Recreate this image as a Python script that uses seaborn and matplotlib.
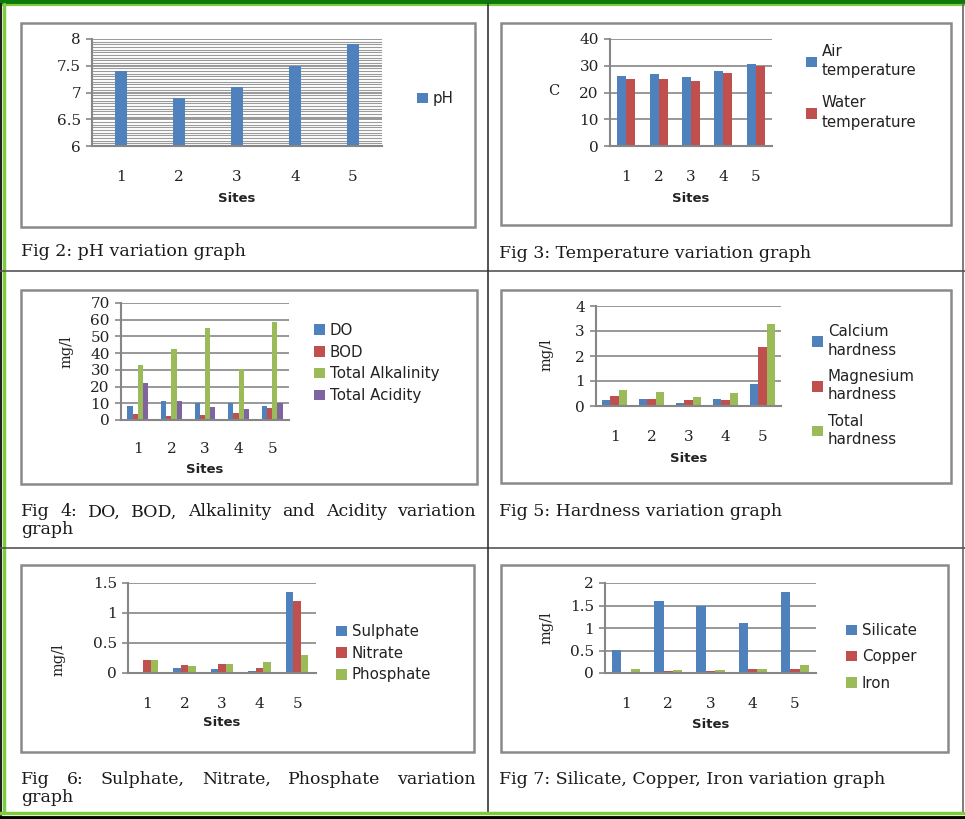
import numpy as np
import pandas as pd
import seaborn as sns
import matplotlib.pyplot as plt
from matplotlib.lines import Line2D
from matplotlib.patches import Rectangle

# ---- data ----
sites = ['1', '2', '3', '4', '5']

ph = [7.4, 6.9, 7.1, 7.5, 7.9]

air_temp = [26.2, 26.9, 25.7, 28.2, 30.5]
water_temp = [24.9, 24.9, 24.2, 27.4, 29.8]

do_vals = [8.4, 11.4, 10.0, 10.0, 8.4]
bod_vals = [3.6, 2.4, 3.0, 4.4, 7.4]
alkalinity = [32.9, 42.5, 55.3, 30.3, 58.5]
acidity = [22.0, 11.4, 7.6, 6.4, 10.4]

calcium = [0.24, 0.28, 0.11, 0.28, 0.88]
magnesium = [0.40, 0.28, 0.24, 0.24, 2.36]
total_hard = [0.63, 0.57, 0.36, 0.53, 3.27]

sulphate = [0.02, 0.09, 0.07, 0.03, 1.35]
nitrate = [0.21, 0.13, 0.155, 0.09, 1.205]
phosphate = [0.21, 0.12, 0.155, 0.19, 0.30]

silicate = [0.52, 1.60, 1.48, 1.11, 1.80]
copper = [0.0, 0.04, 0.04, 0.10, 0.10]
iron = [0.10, 0.07, 0.07, 0.10, 0.17]

BLUE, RED, GREEN, PURPLE = '#4F81BD', '#C0504D', '#9BBB59', '#8064A2'
GRID = '#868686'

W, H = 965, 819
sns.set_theme(style='white')
plt.rcParams['font.family'] = ['DejaVu Serif']

fig = plt.figure(figsize=(W / 100, H / 100), dpi=100)
fig.patch.set_facecolor('white')


def fx(x):
    return x / W


def fy(y):
    return 1 - y / H


def hline(x0, x1, y, color, lw):
    fig.add_artist(Line2D([fx(x0), fx(x1)], [fy(y), fy(y)], color=color, lw=lw,
                          transform=fig.transFigure))


def vline(x, y0, y1, color, lw):
    fig.add_artist(Line2D([fx(x), fx(x)], [fy(y0), fy(y1)], color=color, lw=lw,
                          transform=fig.transFigure))


def frame(x0, y0, x1, y1):
    fig.add_artist(Rectangle((fx(x0), fy(y1)), fx(x1) - fx(x0), fy(y0) - fy(y1),
                             fill=False, ec='#8a8a8a', lw=1.8, transform=fig.transFigure))


def make_df(series):
    rows = []
    for name, vals in series.items():
        for s, v in zip(sites, vals):
            rows.append({'Site': s, 'value': v, 'series': name})
    return pd.DataFrame(rows)


def bar_chart(box, series, colors, width, ylim, yticks, ytl, tick_y, sites_y,
              leg_xy, leg_gap=0.5, line_sp=1.2, minor=None, ylabel=None):
    x0, y0, x1, y1 = box
    ax = fig.add_axes([fx(x0), fy(y1), fx(x1) - fx(x0), fy(y0) - fy(y1)])
    df = make_df(series)
    sns.barplot(data=df, x='Site', y='value', hue='series', palette=colors,
                width=width, ax=ax, saturation=1, errorbar=None, edgecolor='none')
    ax.set_ylim(*ylim)
    ax.set_yticks(yticks)
    ax.set_yticklabels(ytl, fontsize=11, family='DejaVu Serif', color='#222222')
    ax.set_xticklabels(sites, fontsize=11, family='DejaVu Serif', color='#222222')
    ax.set_xlim(-0.5, 4.5)
    if minor is not None:
        ax.set_yticks(minor, minor=True)
        ax.yaxis.grid(True, which='minor', color='#9a9a9a', lw=0.8)
    ax.yaxis.grid(True, which='major', color=GRID, lw=1.2)
    ax.set_axisbelow(True)
    for side in ['top', 'right']:
        ax.spines[side].set_visible(False)
    for side in ['left', 'bottom']:
        ax.spines[side].set_color(GRID)
        ax.spines[side].set_linewidth(1.5)
    ax.tick_params(axis='y', which='major', left=True, length=4, color=GRID, width=1.2, pad=4)
    ax.tick_params(axis='y', which='minor', left=False)
    # tick label vertical offset from the axis bottom in pixels -> points
    ax.tick_params(axis='x', bottom=False, pad=(tick_y - y1 - 8) * 0.72)
    ax.set_xlabel('Sites', fontsize=9.5, fontweight='bold', family='DejaVu Sans',
                  color='#222222')
    ax.xaxis.set_label_coords(0.5, -(sites_y - y1) / (y1 - y0))
    ax.xaxis.label.set_va('center')
    ax.set_ylabel('')
    if ylabel is not None:
        txt, lx, ly, rot = ylabel
        fig.text(fx(lx), fy(ly), txt, rotation=rot, ha='center', va='center',
                 fontsize=10.5, family='DejaVu Serif', color='#222222')
    handles, labels = ax.get_legend_handles_labels()
    leg = ax.legend(handles, labels, loc='upper left',
                    bbox_to_anchor=(fx(leg_xy[0]), fy(leg_xy[1])),
                    bbox_transform=fig.transFigure, frameon=False, handlelength=0.7,
                    handleheight=0.7, handletextpad=0.35, labelspacing=leg_gap,
                    prop={'family': 'DejaVu Sans', 'size': 10.8}, borderpad=0,
                    borderaxespad=0)
    for t in leg.get_texts():
        t.set_linespacing(line_sp)
        t.set_color('#222222')
    return ax


# ---- page borders ----
hline(0, W, 1.5, '#0b7a0b', 3.2)
hline(0, W, 4.5, '#7ccc3c', 1.5)
vline(3.5, 4, 813, '#7ccc3c', 2.5)
vline(1, 4, 819, '#222222', 1.5)
vline(962.5, 4, 813, '#666666', 1.2)
hline(0, W, 271, '#555555', 1.2)
hline(0, W, 548, '#555555', 1.2)
vline(488, 4, 813, '#333333', 1.2)
hline(0, W, 813, '#7ccc3c', 2.5)
hline(0, W, 817.5, '#000000', 3.5)

# ---- chart frames ----
frame(21, 23, 475, 227)
frame(501, 23, 951, 225)
frame(21, 290, 477, 484)
frame(501, 290, 951, 483)
frame(21, 565, 474, 752)
frame(501, 565, 948, 752)

# Fig 2: pH
bar_chart((92, 39, 382, 146), {'pH': ph}, [BLUE], 0.21, (6, 8),
          [6, 6.5, 7, 7.5, 8], ['6', '6.5', '7', '7.5', '8'], 170, 199,
          (417, 91), minor=np.arange(6, 8.001, 0.05))

# Fig 3: temperature
bar_chart((610, 39, 772, 146),
          {'Air\ntemperature': air_temp, 'Water\ntemperature': water_temp},
          [BLUE, RED], 0.56, (0, 40), [0, 10, 20, 30, 40],
          ['0', '10', '20', '30', '40'], 170, 199, (806, 44), leg_gap=1.15,
          line_sp=1.35, ylabel=('C', 554, 91, 0))

# Fig 4: DO, BOD, alkalinity, acidity
bar_chart((121, 303, 289, 420),
          {'DO': do_vals, 'BOD': bod_vals, 'Total Alkalinity': alkalinity,
           'Total Acidity': acidity},
          [BLUE, RED, GREEN, PURPLE], 0.62, (0, 70), list(range(0, 71, 10)),
          [str(v) for v in range(0, 71, 10)], 442, 470, (314, 323), leg_gap=0.45,
          ylabel=('mg/l', 66, 352, 90))

# Fig 5: hardness
bar_chart((596, 306, 781, 406),
          {'Calcium\nhardness': calcium, 'Magnesium\nhardness': magnesium,
           'Total\nhardness': total_hard},
          [BLUE, RED, GREEN], 0.66, (0, 4), [0, 1, 2, 3, 4],
          ['0', '1', '2', '3', '4'], 430, 458, (812, 324), leg_gap=0.75,
          line_sp=1.3, ylabel=('mg/l', 546, 355, 90))

# Fig 6: sulphate, nitrate, phosphate
bar_chart((128, 583, 316, 673),
          {'Sulphate': sulphate, 'Nitrate': nitrate, 'Phosphate': phosphate},
          [BLUE, RED, GREEN], 0.6, (0, 1.5), [0, 0.5, 1, 1.5],
          ['0', '0.5', '1', '1.5'], 697, 723, (336, 624), leg_gap=0.45,
          ylabel=('mg/l', 58, 660, 90))

# Fig 7: silicate, copper, iron
bar_chart((605, 583, 816, 673),
          {'Silicate': silicate, 'Copper': copper, 'Iron': iron},
          [BLUE, RED, GREEN], 0.67, (0, 2), [0, 0.5, 1, 1.5, 2],
          ['0', '0.5', '1', '1.5', '2'], 697, 724, (846, 623), leg_gap=0.75,
          ylabel=('mg/l', 546, 628, 90))

# ---- captions ----
cap = dict(fontsize=12.5, family='DejaVu Serif', va='center', ha='left', color='#1a1a1a')
fig.text(fx(21), fy(252), 'Fig 2: pH variation graph', **cap)
fig.text(fx(499), fy(253), 'Fig 3: Temperature variation graph', **cap)
fig.text(fx(499), fy(512), 'Fig 5: Hardness variation graph', **cap)
fig.text(fx(499), fy(780), 'Fig 7: Silicate, Copper, Iron variation graph', **cap)
fig.text(fx(21), fy(530), 'graph', **cap)
fig.text(fx(21), fy(797), 'graph', **cap)

renderer = fig.canvas.get_renderer()


def justified(words, x0, x1, y):
    texts = [fig.text(0, fy(y), w, **cap) for w in words]
    widths = [t.get_window_extent(renderer).width for t in texts]
    gap = (x1 - x0 - sum(widths)) / (len(words) - 1)
    x = x0
    for t, w in zip(texts, widths):
        t.set_x(fx(x))
        x += w + gap


justified(['Fig', '4:', 'DO,', 'BOD,', 'Alkalinity', 'and', 'Acidity', 'variation'], 21, 476, 512)
justified(['Fig', '6:', 'Sulphate,', 'Nitrate,', 'Phosphate', 'variation'], 21, 476, 779)

fig.savefig('out.png', dpi=100, facecolor='white')
